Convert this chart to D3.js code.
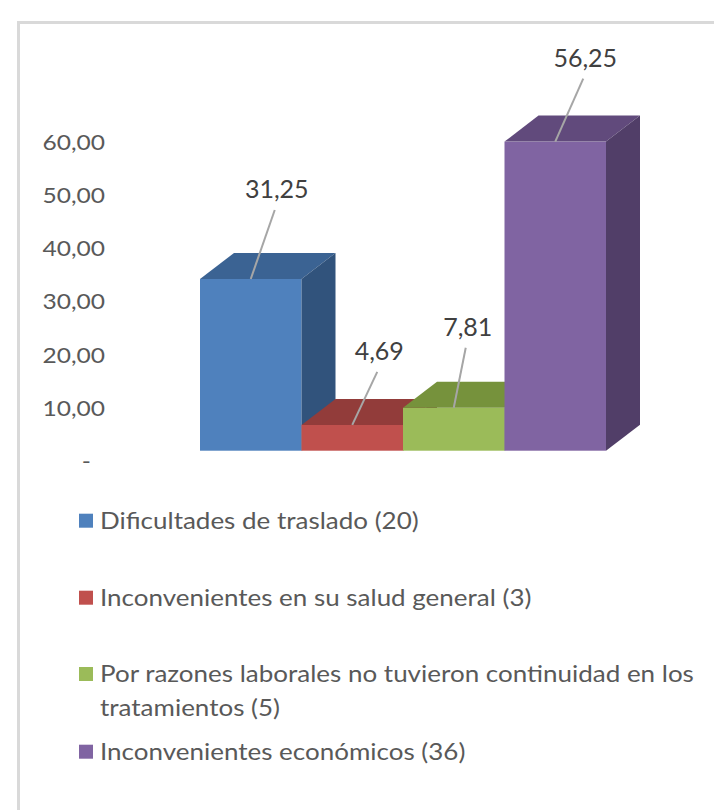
<!DOCTYPE html>
<html>
<head>
<meta charset="utf-8">
<script src="https://cdn.jsdelivr.net/npm/d3@7"></script>
<style>
  body { margin: 0; background: #fff; }
  svg text { font-family: Lato, "Open Sans", sans-serif; }
</style>
</head>
<body>
<div id="chart"></div>
<script>
// values (percent)
const categories = [
  "Dificultades de traslado (20)",
  "Inconvenientes en su salud general (3)",
  "Por razones laborales no tuvieron continuidad en los tratamientos (5)",
  "Inconvenientes económicos (36)"
];
const values = [31.25, 4.69, 7.81, 56.25];
const yTicks = [0, 10, 20, 30, 40, 50, 60];

// colors: front, top, side
const frontColors = ["#4f81bd", "#c0504d", "#9bbb59", "#8064a2"];
const topColors = ["#3b6393", "#923c3a", "#76923c", "#614a7c"];
const sideColors = ["#31537c", "#7b3230", "#637b32", "#513e68"];

// where the data labels sit, relative to the bar's front-top centre
const labelOffsets = [[26, -90], [27, -74], [14, -81], [30, -84]];

const W = 714, H = 810;
const depth = {dx: 34, dy: -26};
// source font is a bit wider than Lato
const stretch = 1.13;

const svg = d3.select("#chart").append("svg")
  .attr("width", W)
  .attr("height", H);

// frame (only left and top edges show in the crop)
svg.append("path")
  .attr("d", "M18.5,810 L18.5,22.5 L714,22.5")
  .attr("fill", "none")
  .attr("stroke", "#d9d9d9")
  .attr("stroke-width", 3);

let x = d3.scaleBand()
  .domain(categories)
  .range([200, 606])
  .padding(0);

// bar heights on the front plane
let y = d3.scaleLinear()
  .domain([0, 60])
  .range([450.7, 121]);

// value axis labels sit on the projected back wall
let yAxisScale = d3.scaleLinear()
  .domain([0, 60])
  .range([462, 142.5]);

const fmt = v => v === 0 ? "-" : d3.format(".2f")(v).replace(".", ",");

let axis = svg.append("g")
  .attr("transform", "translate(105,0)")
  .call(d3.axisLeft(yAxisScale).tickValues(yTicks).tickFormat(fmt).tickSize(0).tickPadding(0));
axis.select(".domain").remove();
axis.selectAll("text")
  .attr("fill", "#595959")
  .attr("font-size", 21)
  .attr("transform", "scale(1.17,1)")
  .attr("dx", d => d === 0 ? -12 : 0);

const bars = svg.append("g");
categories.forEach((c, i) => {
  const x0 = x(c), x1 = x(c) + x.bandwidth();
  const yt = y(values[i]), yb = y(0);
  const g = bars.append("g");
  // front
  g.append("rect")
    .attr("x", x0).attr("y", yt)
    .attr("width", x1 - x0).attr("height", yb - yt)
    .attr("fill", frontColors[i]);
  // top
  g.append("path")
    .attr("d", `M${x0},${yt} L${x1},${yt} L${x1 + depth.dx},${yt + depth.dy} L${x0 + depth.dx},${yt + depth.dy} Z`)
    .attr("fill", topColors[i]);
  // side
  g.append("path")
    .attr("d", `M${x1},${yt} L${x1 + depth.dx},${yt + depth.dy} L${x1 + depth.dx},${yb + depth.dy} L${x1},${yb} Z`)
    .attr("fill", sideColors[i]);
});

// data labels with leader lines
const labels = svg.append("g");
values.forEach((v, i) => {
  const cx = x(categories[i]) + x.bandwidth() / 2;
  const cy = y(v);
  const lx = cx + labelOffsets[i][0], ly = cy + labelOffsets[i][1];
  labels.append("line")
    .attr("x1", cx).attr("y1", cy)
    .attr("x2", lx - 2).attr("y2", ly + 21)
    .attr("stroke", "#a6a6a6")
    .attr("stroke-width", 2);
  labels.append("text")
    .attr("x", lx).attr("y", ly + 9)
    .attr("text-anchor", "middle")
    .attr("font-size", 25)
    .attr("fill", "#404040")
    .text(fmt(v));
});

// legend
const legendY = [520.7, 597.7, 674, 751.7];
const legend = svg.append("g");
categories.forEach((c, i) => {
  const row = legend.append("g").attr("transform", `translate(0,${legendY[i]})`);
  row.append("rect")
    .attr("x", 79).attr("y", -7)
    .attr("width", 14).attr("height", 14)
    .attr("fill", frontColors[i]);
  const t = row.append("text")
    .attr("transform", `translate(100,8) scale(${stretch},1)`)
    .attr("font-size", 23)
    .attr("fill", "#595959");
  // simple word wrap
  const maxW = 600 / stretch;
  const words = c.split(" ");
  let line = [], tspan = t.append("tspan").attr("x", 0).attr("dy", 0);
  words.forEach(w => {
    line.push(w);
    tspan.text(line.join(" "));
    if (tspan.node().getComputedTextLength() > maxW && line.length > 1) {
      line.pop();
      tspan.text(line.join(" "));
      line = [w];
      tspan = t.append("tspan").attr("x", 0).attr("dy", 34).text(w);
    }
  });
});
</script>
</body>
</html>
